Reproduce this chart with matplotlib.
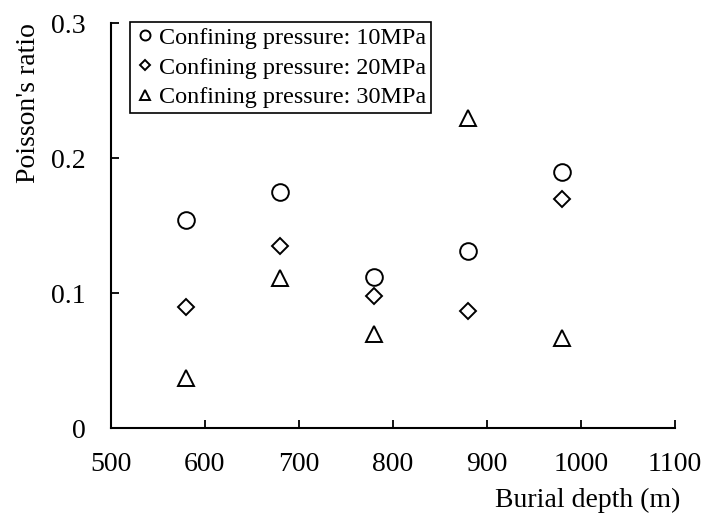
import matplotlib
matplotlib.use('Agg')
import matplotlib.pyplot as plt
from matplotlib.ticker import FuncFormatter

depth = [580, 680, 780, 880, 980]
nu_10 = [0.154, 0.175, 0.112, 0.131, 0.190]
nu_20 = [0.090, 0.135, 0.098, 0.087, 0.170]
nu_30 = [0.037, 0.111, 0.070, 0.230, 0.067]
labels = ['Confining pressure: 10MPa', 'Confining pressure: 20MPa',
          'Confining pressure: 30MPa']

plt.rcParams['font.family'] = ['Liberation Serif', 'DejaVu Serif']

fig = plt.figure(figsize=(7.06, 5.13), dpi=100)
ax = fig.add_axes([0.157, 0.165, 0.799, 0.79])

kw = dict(linestyle='none', markerfacecolor='white', markeredgecolor='black',
          markeredgewidth=1.4)
ax.plot(depth, nu_10, marker='o', markersize=12, label=labels[0], **kw)
ax.plot(depth, nu_20, marker='D', markersize=8.3, label=labels[1], **kw)
ax.plot(depth, nu_30, marker='^', markersize=12, label=labels[2], **kw)

ax.set_xlim(500, 1100)
ax.set_ylim(0, 0.3)
ax.set_xticks(range(500, 1101, 100))
ax.set_yticks([0, 0.1, 0.2, 0.3])
ax.yaxis.set_major_formatter(FuncFormatter(lambda v, p: '0' if v == 0 else f'{v:.1f}'))

for s in ['top', 'right']:
    ax.spines[s].set_visible(False)
for s in ['left', 'bottom']:
    ax.spines[s].set_linewidth(1.5)
ax.tick_params(axis='both', direction='in', length=6, width=1.3, labelsize=20)
ax.tick_params(axis='x', pad=17)
ax.tick_params(axis='y', pad=18)

fig.text(0.963, 0.012, 'Burial depth (m)', ha='right', va='baseline', fontsize=20)
fig.text(0.04, 0.80, "Poisson's ratio", ha='center', va='center',
         rotation=90, fontsize=20)

leg = ax.legend(loc='upper left', bbox_to_anchor=(0.034, 1.003), borderaxespad=0,
                fontsize=17.4, handletextpad=0.1, handlelength=0.88, markerscale=0.6,
                fancybox=False, framealpha=1, edgecolor='black',
                borderpad=0.2, labelspacing=0.33)
leg.get_frame().set_linewidth(1.2)

fig.savefig('out.png', dpi=100)
